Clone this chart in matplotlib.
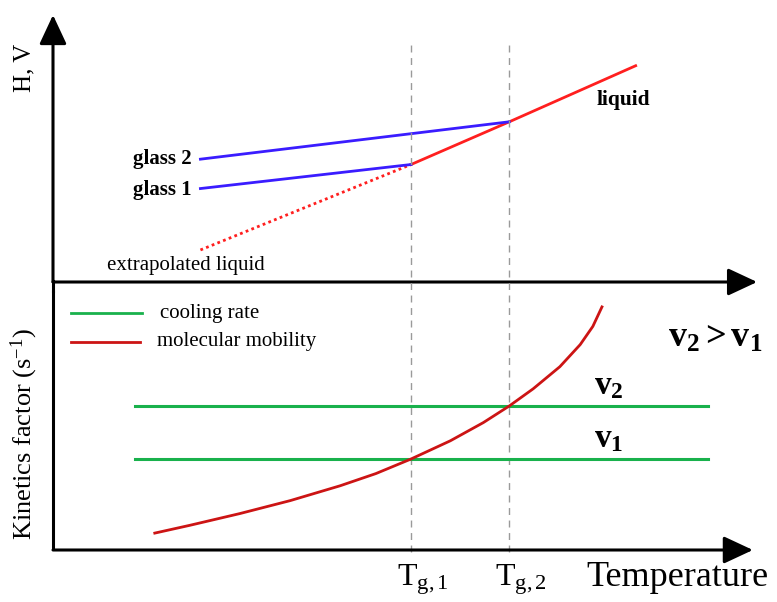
"""
Glass transition schematic: enthalpy/volume vs temperature (top) and
kinetic factors vs temperature (bottom) for two cooling rates.
"""

import matplotlib.pyplot as plt
from matplotlib.transforms import blended_transform_factory

plt.rcParams['font.family'] = 'Liberation Serif'
plt.rcParams['mathtext.fontset'] = 'custom'
plt.rcParams['mathtext.rm'] = 'Liberation Serif'
plt.rcParams['mathtext.it'] = 'Liberation Serif:italic'
plt.rcParams['mathtext.bf'] = 'Liberation Serif:bold'

# Temperatures (arbitrary units)
Tg1 = 5.1
Tg2 = 6.5

# Top panel: H, V
liquid_T = [Tg1, Tg2, 8.3]
liquid_H = [4.4, 6.0, 8.1]
extrap_T = [2.1, Tg1]
extrap_H = [1.2, 4.4]
glass1_T = [2.1, Tg1]
glass1_H = [3.5, 4.4]
glass2_T = [2.1, Tg2]
glass2_H = [4.6, 6.0]

# Bottom panel: kinetics factor
mobility_T = [1.45, 1.95, 2.66, 3.38, 4.09, 4.6, 5.1, 5.66, 6.13, 6.5,
              6.84, 7.22, 7.51, 7.69, 7.82]
mobility_k = [0.65, 0.95, 1.40, 1.90, 2.47, 2.94, 3.5, 4.2, 4.9, 5.54,
              6.2, 7.05, 7.9, 8.6, 9.35]
rate_T = [1.17, 9.33]
rate_v1 = 3.5
rate_v2 = 5.54

BLUE = '#3a1cff'
RED = '#ff1f1f'
GREEN = '#19b14c'
DARKRED = '#cc1414'

fig = plt.figure(figsize=(7.77, 6.02), dpi=100)
W, H = 777, 602
x0, x1 = 53 / W, 755 / W
ax_top = fig.add_axes([x0, 1 - 282 / H, x1 - x0, (282 - 15) / H])
ax_bot = fig.add_axes([x0, 1 - 550 / H, x1 - x0, (550 - 290) / H])
for ax in (ax_top, ax_bot):
    ax.set_xlim(0, 10)
    ax.set_ylim(0, 10)
    ax.axis('off')

arrow = dict(arrowstyle='-|>,head_length=0.9,head_width=0.42', lw=2.2,
             color='black', mutation_scale=20, shrinkA=0, shrinkB=0)

# axes with arrow heads
ax_top.annotate('', xy=(1.003, 0), xytext=(0, 0), xycoords='axes fraction',
                arrowprops=arrow)
ax_top.annotate('', xy=(0, 1.0), xytext=(0, 0), xycoords='axes fraction',
                arrowprops=arrow)
ax_bot.annotate('', xy=(0.997, 0), xytext=(0, 0), xycoords='axes fraction',
                arrowprops=arrow)
ax_bot.plot([0, 0], [0, 1.0], transform=ax_bot.transAxes, color='black',
            lw=2.2, clip_on=False, solid_capstyle='butt')
fig.add_artist(plt.Line2D([x0, x0], [1 - 291 / H, 1 - 281 / H],
                          color='black', lw=2.2))

# dashed guides at the glass transitions
tr = blended_transform_factory(ax_bot.transData, fig.transFigure)
for Tg in (Tg1, Tg2):
    ax_bot.plot([Tg, Tg], [1 - 552 / H, 1 - 45 / H], transform=tr,
                color='#9a9a9a', lw=1, ls=(0, (5, 4)), clip_on=False, zorder=0)

# top panel
ax_top.plot(liquid_T, liquid_H, color=RED, lw=2)
ax_top.plot(extrap_T, extrap_H, color=RED, lw=2, ls=(0, (1, 1.2)))
ax_top.plot(glass1_T, glass1_H, color=BLUE, lw=2)
ax_top.plot(glass2_T, glass2_H, color=BLUE, lw=2)

ax_top.text(1.98, glass2_H[0], 'glass 2', ha='right', va='center',
            fontsize=15, fontweight='bold')
ax_top.text(1.98, glass1_H[0] - 0.05, 'glass 1', ha='right', va='center',
            fontsize=15, fontweight='bold')
ax_top.text(7.75, 6.8, 'liquid', ha='left', va='center',
            fontsize=15.5, fontweight='bold')
ax_top.text(0.77, 0.62, 'extrapolated liquid', ha='left', va='center',
            fontsize=15)
fig.text(24 / W, 1 - 68 / H, 'H, V', rotation=90, ha='center', va='center',
         fontsize=18)

# bottom panel
ax_bot.plot(rate_T, [rate_v2, rate_v2], color=GREEN, lw=2.2)
ax_bot.plot(rate_T, [rate_v1, rate_v1], color=GREEN, lw=2.2)
ax_bot.plot(mobility_T, mobility_k, color=DARKRED, lw=2,
            solid_joinstyle='round')

ax_bot.text(7.92, rate_v2 + 0.2, r'$\mathbf{v_2}$', ha='center', va='bottom',
            fontsize=24)
ax_bot.text(7.92, rate_v1 + 0.2, r'$\mathbf{v_1}$', ha='center', va='bottom',
            fontsize=24)
ax_bot.text(9.43, 8.15, r'$\mathbf{v_2 > v_1}$', ha='center', va='center',
            fontsize=26)

# legend
ax_bot.plot([0.25, 1.27], [9.1, 9.1], color=GREEN, lw=2)
ax_bot.plot([0.25, 1.24], [8.0, 8.0], color=DARKRED, lw=2)
ax_bot.text(1.52, 9.1, 'cooling rate', ha='left', va='center', fontsize=15)
ax_bot.text(1.48, 8.0, 'molecular mobility', ha='left', va='center',
            fontsize=15)

fig.text(24 / W, 1 - 434 / H, r'Kinetics factor (s$^{\mathregular{-1}}$)',
         rotation=90, ha='center', va='center', fontsize=19)

# temperature axis labels
ax_bot.text(Tg1 + 0.17, -1.15, r'$\mathrm{T_{g,1}}$', ha='center', va='center',
            fontsize=23)
ax_bot.text(Tg2 + 0.17, -1.15, r'$\mathrm{T_{g,2}}$', ha='center', va='center',
            fontsize=23)
ax_bot.text(8.9, -1.05, 'Temperature', ha='center', va='center', fontsize=26)

fig.savefig('out.png', dpi=100)
